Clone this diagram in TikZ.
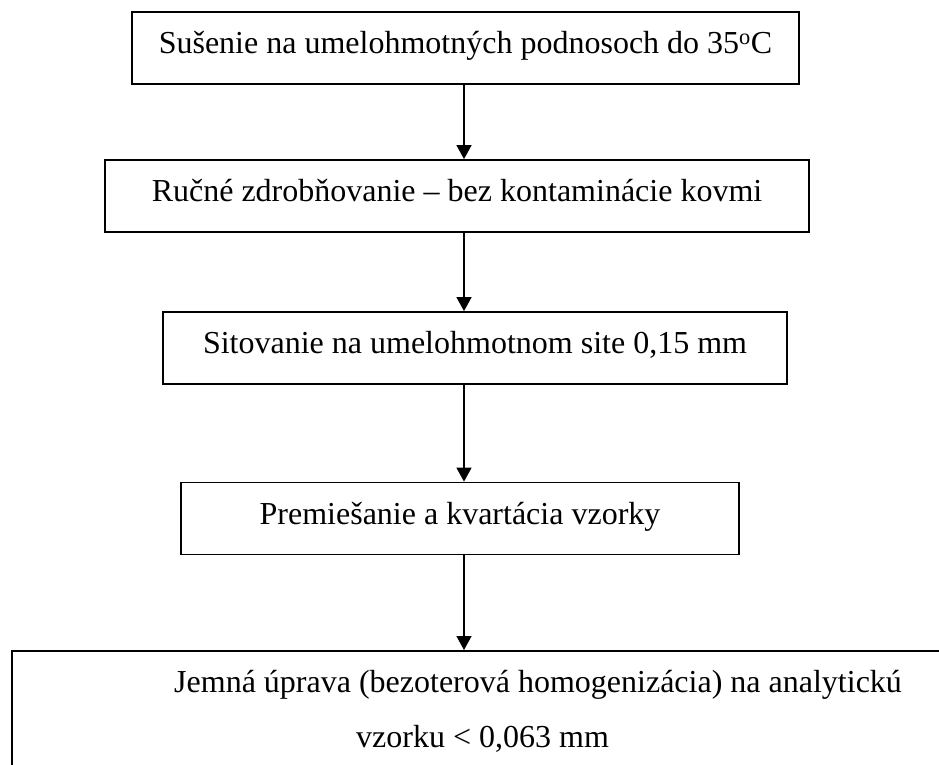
\documentclass[tikz,border=0pt]{standalone}
\usepackage{fontspec}
\setmainfont{Liberation Serif}
\usetikzlibrary{arrows.meta}

\tikzset{
  stepbox/.style={draw, line width=1.8pt, inner sep=0pt, minimum height=72pt,
    text depth=11pt, font=\fontsize{32}{38}\selectfont},
  steptext/.style={inner sep=0pt, font=\fontsize{32}{38}\selectfont},
  flow/.style={line width=1.5pt, -{Triangle[length=14pt,width=15pt]}},
}

\begin{document}
\begin{tikzpicture}[x=1pt,y=-1pt]
  \clip (0,0) rectangle (939,765);

  % Process steps
  \node[stepbox, minimum width=667pt] (dry) at (465.5,48)
    {Sušenie na umelohmotných podnosoch do 35\textsuperscript{o}C};
  \node[stepbox, minimum width=704pt] (crush) at (457,196)
    {Ručné zdrobňovanie – bez kontaminácie kovmi};
  \node[stepbox, minimum width=624pt] (sieve) at (475,348)
    {Sitovanie na umelohmotnom site 0,15 mm};
  \node[stepbox, minimum width=558pt] (mix) at (460,518.5)
    {Premiešanie a kvartácia vzorky};

  % Last box runs off the page
  \node[draw, line width=1.8pt, anchor=north west, minimum width=1000pt,
    minimum height=200pt] (fine) at (11,650) {};
  \node[steptext, anchor=base west] (fine1) at (174,692)
    {Jemná úprava (bezoterová homogenizácia) na analytickú};
  \node[steptext, anchor=base west] (fine2) at (356,747)
    {vzorku < 0,063 mm};

  % Arrows down the middle
  \coordinate (axis) at (464,0);
  \draw[flow] (dry.south -| axis) -- (crush.north -| axis);
  \draw[flow] (crush.south -| axis) -- (sieve.north -| axis);
  \draw[flow] (sieve.south -| axis) -- (mix.north -| axis);
  \draw[flow] (mix.south -| axis) -- (fine.north -| axis);
\end{tikzpicture}
\end{document}
